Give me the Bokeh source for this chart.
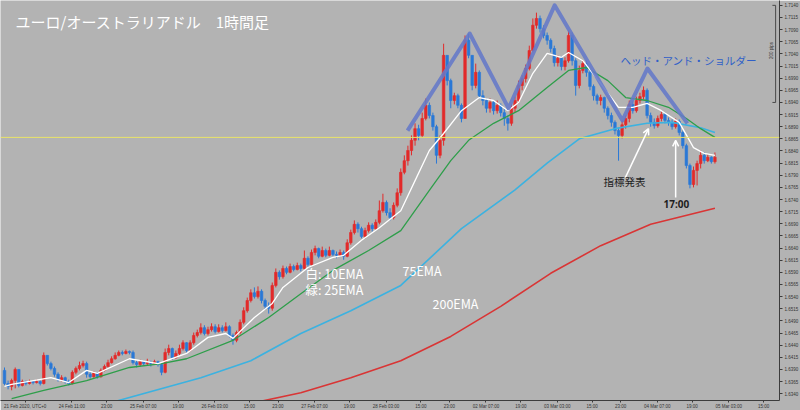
from bokeh.plotting import figure
from bokeh.models import Range1d, FixedTicker, Label, Arrow, OpenHead, Span, PrintfTickFormatter
from bokeh.embed import file_html
from bokeh.resources import INLINE

# ---------------- data (EUR/AUD, 1 hour) ----------------
first_open = 1.6388
close = [1.6361,1.6355,1.6367,1.6390,1.6357,1.6365,1.6361,1.6365,1.6363,1.6365,
         1.6361,1.6419,1.6402,1.6392,1.6380,1.6369,1.6373,1.6365,1.6361,1.6384,
         1.6392,1.6398,1.6402,1.6380,1.6375,1.6382,1.6375,1.6388,1.6396,1.6404,
         1.6412,1.6419,1.6425,1.6423,1.6427,1.6425,1.6404,1.6400,1.6406,1.6402,
         1.6404,1.6402,1.6406,1.6400,1.6384,1.6425,1.6433,1.6414,1.6423,1.6433,
         1.6445,1.6429,1.6445,1.6460,1.6466,1.6476,1.6464,1.6472,1.6478,1.6468,
         1.6476,1.6470,1.6478,1.6460,1.6450,1.6466,1.6487,1.6511,1.6532,1.6548,
         1.6540,1.6551,1.6532,1.6520,1.6516,1.6563,1.6590,1.6581,1.6598,1.6590,
         1.6602,1.6596,1.6604,1.6598,1.6619,1.6606,1.6631,1.6639,1.6623,1.6635,
         1.6625,1.6635,1.6627,1.6625,1.6631,1.6623,1.6651,1.6672,1.6689,1.6680,
         1.6664,1.6676,1.6687,1.6680,1.6693,1.6717,1.6734,1.6713,1.6703,1.6728,
         1.6754,1.6796,1.6820,1.6841,1.6862,1.6886,1.6872,1.6907,1.6934,1.6913,
         1.6890,1.6831,1.6862,1.7037,1.6985,1.6944,1.6954,1.6934,1.6907,1.7068,
         1.7037,1.6975,1.7002,1.6954,1.6944,1.6928,1.6940,1.6923,1.6934,1.6919,
         1.6907,1.6897,1.6928,1.6944,1.6975,1.6989,1.7010,1.7047,1.7099,1.7113,
         1.7092,1.7078,1.7068,1.7051,1.7022,1.7031,1.7014,1.7026,1.7078,1.7026,
         1.6975,1.7006,1.7020,1.7002,1.6973,1.6954,1.6944,1.6950,1.6928,1.6913,
         1.6899,1.6882,1.6872,1.6894,1.6907,1.6936,1.6923,1.6944,1.6952,1.6965,
         1.6913,1.6899,1.6892,1.6907,1.6915,1.6903,1.6899,1.6890,1.6901,1.6878,
         1.6851,1.6810,1.6771,1.6800,1.6814,1.6831,1.6820,1.6827,1.6818,1.6827]
high = [1.6394,1.6367,1.6371,1.6394,1.6384,1.6369,1.6367,1.6369,1.6367,1.6369,
        1.6367,1.6425,1.6417,1.6406,1.6396,1.6384,1.6378,1.6375,1.6369,1.6388,
        1.6396,1.6406,1.6408,1.6406,1.6384,1.6386,1.6384,1.6392,1.6400,1.6410,
        1.6417,1.6425,1.6429,1.6429,1.6431,1.6429,1.6429,1.6408,1.6410,1.6408,
        1.6412,1.6408,1.6410,1.6408,1.6404,1.6433,1.6441,1.6435,1.6429,1.6441,
        1.6450,1.6446,1.6450,1.6466,1.6472,1.6485,1.6481,1.6478,1.6485,1.6483,
        1.6483,1.6481,1.6487,1.6481,1.6464,1.6470,1.6493,1.6518,1.6538,1.6555,
        1.6559,1.6561,1.6555,1.6536,1.6528,1.6569,1.6598,1.6594,1.6604,1.6602,
        1.6608,1.6606,1.6610,1.6608,1.6635,1.6623,1.6637,1.6645,1.6641,1.6643,
        1.6639,1.6643,1.6637,1.6633,1.6637,1.6635,1.6658,1.6678,1.6697,1.6693,
        1.6684,1.6682,1.6693,1.6691,1.6699,1.6738,1.6752,1.6738,1.6722,1.6734,
        1.6763,1.6804,1.6831,1.6851,1.6872,1.6897,1.6894,1.6919,1.6948,1.6940,
        1.6919,1.6894,1.6872,1.7061,1.7031,1.6989,1.6960,1.6958,1.6938,1.7078,
        1.7082,1.7037,1.7020,1.7006,1.6965,1.6948,1.6948,1.6944,1.6944,1.6938,
        1.6928,1.6913,1.6936,1.6952,1.6985,1.6996,1.7018,1.7057,1.7113,1.7125,
        1.7119,1.7099,1.7084,1.7072,1.7057,1.7037,1.7035,1.7033,1.7088,1.7084,
        1.7031,1.7016,1.7026,1.7026,1.7006,1.6977,1.6958,1.6956,1.6952,1.6932,
        1.6919,1.6903,1.6888,1.6903,1.6913,1.6944,1.6942,1.6952,1.6960,1.6973,
        1.6969,1.6919,1.6907,1.6913,1.6921,1.6919,1.6909,1.6905,1.6907,1.6905,
        1.6882,1.6855,1.6814,1.6808,1.6820,1.6841,1.6837,1.6833,1.6829,1.6837]
low = [1.6357,1.6349,1.6347,1.6351,1.6353,1.6355,1.6357,1.6359,1.6359,1.6361,
       1.6357,1.6359,1.6398,1.6388,1.6375,1.6365,1.6365,1.6361,1.6357,1.6359,
       1.6380,1.6388,1.6394,1.6373,1.6371,1.6373,1.6371,1.6373,1.6386,1.6394,
       1.6402,1.6410,1.6417,1.6419,1.6421,1.6421,1.6400,1.6394,1.6396,1.6398,
       1.6398,1.6396,1.6400,1.6396,1.6378,1.6382,1.6419,1.6410,1.6412,1.6419,
       1.6429,1.6425,1.6427,1.6441,1.6456,1.6462,1.6460,1.6460,1.6468,1.6464,
       1.6466,1.6466,1.6468,1.6456,1.6441,1.6446,1.6462,1.6483,1.6507,1.6528,
       1.6536,1.6536,1.6526,1.6513,1.6505,1.6511,1.6559,1.6575,1.6577,1.6586,
       1.6588,1.6592,1.6594,1.6592,1.6596,1.6602,1.6604,1.6625,1.6619,1.6621,
       1.6621,1.6623,1.6623,1.6619,1.6623,1.6616,1.6621,1.6647,1.6668,1.6672,
       1.6660,1.6660,1.6672,1.6674,1.6678,1.6689,1.6713,1.6707,1.6697,1.6699,
       1.6724,1.6748,1.6792,1.6810,1.6831,1.6851,1.6862,1.6868,1.6903,1.6907,
       1.6882,1.6814,1.6825,1.6851,1.6975,1.6928,1.6936,1.6928,1.6899,1.6907,
       1.7031,1.6965,1.6969,1.6948,1.6934,1.6919,1.6919,1.6915,1.6917,1.6911,
       1.6892,1.6882,1.6892,1.6919,1.6938,1.6965,1.6981,1.7006,1.7043,1.7092,
       1.7084,1.7072,1.7059,1.7043,1.7014,1.7014,1.7006,1.7006,1.7022,1.7016,
       1.6954,1.6969,1.7000,1.6993,1.6965,1.6944,1.6936,1.6934,1.6919,1.6905,
       1.6890,1.6874,1.6820,1.6866,1.6886,1.6899,1.6917,1.6919,1.6938,1.6946,
       1.6907,1.6890,1.6886,1.6888,1.6901,1.6897,1.6892,1.6884,1.6886,1.6872,
       1.6845,1.6804,1.6763,1.6765,1.6769,1.6804,1.6814,1.6817,1.6814,1.6814]

# moving averages (bar index, price)
ema10_idx = [0,2,13,18,23,26,35,43,51,57,62,64,70,75,78,85,92,95,100,105,111,115,119,123,128,
             133,137,141,144,148,152,156,158,162,167,172,176,180,184,189,193,196,199]
ema10 = [1.6355,1.6359,1.6373,1.6363,1.6388,1.6382,1.6412,1.6402,1.6423,1.6456,1.6464,1.6454,
         1.6497,1.6526,1.6559,1.6600,1.6621,1.6625,1.6656,1.6682,1.6717,1.6779,1.6841,1.6876,
         1.6923,1.6950,1.6944,1.6923,1.6940,1.7000,1.7041,1.7033,1.7043,1.7026,1.6979,1.6930,
         1.6930,1.6938,1.6923,1.6899,1.6847,1.6835,1.6831]
ema25_idx = [2,11,23,35,44,51,64,74,83,92,102,111,119,125,130,137,144,152,158,163,169,174,180,
             186,191,195,199]
ema25 = [1.6330,1.6347,1.6367,1.6394,1.6402,1.6412,1.6450,1.6497,1.6546,1.6594,1.6635,1.6676,
         1.6759,1.6820,1.6862,1.6897,1.6923,1.6971,1.7006,1.7012,1.6985,1.6950,1.6944,1.6930,
         1.6907,1.6886,1.6868]
ema75_idx = [30,55,69,83,97,111,128,143,152,161,171,180,187,195,199]
ema75 = [1.6322,1.6373,1.6408,1.6464,1.6511,1.6563,1.6680,1.6760,1.6815,1.6865,1.6886,1.6897,
         1.6899,1.6888,1.6878]
ema200_idx = [69,83,97,111,125,139,153,167,181,199]
ema200 = [1.6320,1.6342,1.6373,1.6408,1.6458,1.6520,1.6588,1.6645,1.6689,1.6722]

# head-and-shoulders guide line
hs_idx = [112.9,130.3,141.2,154.1,173.1,180.1,191.3]
hs_price = [1.6882,1.7082,1.6928,1.7140,1.6903,1.7010,1.6897]

level_price = 1.6868          # yellow horizontal line

ytick_vals = [1.7140,1.7115,1.7090,1.7065,1.7040,1.7015,1.6990,1.6965,1.6940,1.6915,1.6890,
              1.6865,1.6840,1.6815,1.6790,1.6765,1.6740,1.6715,1.6690,1.6665,1.6640,1.6615,
              1.6590,1.6565,1.6540,1.6515,1.6490,1.6465,1.6440,1.6415,1.6390,1.6365,1.6340]
xtick_idx = [0,15,27,35,47,55,67,75,83,95,103,115,123,131,143,151,163,171,179,191,199,211]
xtick_labels = ["21 Feb 2020, UTC+0","24 Feb 11:00","23:00","25 Feb 07:00","19:00","26 Feb 03:00",
                "15:00","23:00","27 Feb 07:00","19:00","28 Feb 03:00","15:00","23:00",
                "02 Mar 07:00","19:00","03 Mar 03:00","15:00","23:00","04 Mar 07:00","19:00",
                "05 Mar 03:00","15:00"]

# ---------------- layout constants ----------------
BG = "#b3b3b3"
RED = "#e22a2a"
BLUE = "#2a78d6"
FW, FH = 779, 400
PX_PER_BAR = 3.57
X0_PX = 4
P_TOP = 1.7150
P_PER_PX = 0.000206
AX_FONT = "4.5px"
CHAR_PX = 2.3

n = len(close)
idx = list(range(n))
opn = [first_open] + close[:-1]
col = [RED if c >= o else BLUE for o, c in zip(opn, close)]
top = [max(o, c) for o, c in zip(opn, close)]
bot = [min(o, c) for o, c in zip(opn, close)]
hi = [max(h, t) for h, t in zip(high, top)]
lo = [min(l, b) for l, b in zip(low, bot)]

p = figure(frame_width=FW, frame_height=FH,
           x_range=Range1d(-X0_PX / PX_PER_BAR, (FW - X0_PX) / PX_PER_BAR),
           y_range=Range1d(P_TOP - FH * P_PER_PX, P_TOP),
           output_backend="svg", toolbar_location=None, y_axis_location="right",
           min_border_left=0, min_border_top=0, min_border_right=21, min_border_bottom=10,
           background_fill_color=BG, border_fill_color=BG, outline_line_color=None)
p.grid.visible = False

# axes
for ax in (p.xaxis[0], p.yaxis[0]):
    ax.axis_line_color = "#3c3c3c"
    ax.major_tick_line_color = "#3c3c3c"
    ax.minor_tick_line_color = None
    ax.major_tick_in = 0
    ax.major_label_text_font = "Liberation Sans"
    ax.major_label_text_font_size = AX_FONT
    ax.major_label_text_color = "#333333"
p.yaxis.ticker = FixedTicker(ticks=ytick_vals)
p.yaxis.formatter = PrintfTickFormatter(format="%.4f")
p.yaxis.major_tick_out = 3
p.yaxis.major_label_standoff = 2

shifted = [i + len(s) * CHAR_PX / 2 / PX_PER_BAR for i, s in zip(xtick_idx, xtick_labels)]
p.xaxis.ticker = FixedTicker(ticks=shifted)
p.xaxis.major_label_overrides = {t: s for t, s in zip(shifted, xtick_labels)}
p.xaxis.major_tick_out = 2
p.xaxis.major_label_standoff = 1

# yellow level line
p.add_layout(Span(location=level_price, dimension="width", line_color="#e9e468", line_width=1))

# candles
p.segment(x0=idx, y0=lo, x1=idx, y1=hi, line_color=col, line_width=1)
p.vbar(x=idx, width=0.72, top=top, bottom=bot, fill_color=col, line_color=col, line_width=0.6)

# moving averages
p.line(ema200_idx, ema200, line_color="#d93535", line_width=1.6)
p.line(ema75_idx, ema75, line_color="#3cb2e0", line_width=1.6)
p.line(ema25_idx, ema25, line_color="#2e9e4a", line_width=1.3)
p.line(ema10_idx, ema10, line_color="#ffffff", line_width=1.3)

# H&S guide
p.line(hs_idx, hs_price, line_color="#6479c8", line_width=4, line_alpha=0.88, line_join="round")

# 200 pips bracket
p.segment(x0=[216.0, 215.1, 215.1], y0=[1.7140, 1.7140, 1.6940],
          x1=[216.0, 216.0, 216.0], y1=[1.6940, 1.7140, 1.6940], line_color="#4a4a4a", line_width=1)

# arrows
for xs, ys, xe, ye in [(173.9, 1.6785, 180.4, 1.6886), (188.0, 1.6744, 188.0, 1.6862)]:
    p.add_layout(Arrow(end=OpenHead(size=6, line_color="white", line_width=1.5),
                       x_start=xs, y_start=ys, x_end=xe, y_end=ye,
                       line_color="white", line_width=1.5))

JP = "Noto Sans CJK JP"

def lab(x, py, text, size, color, bold=False, font=JP, **kw):
    p.add_layout(Label(x=x, y=FH - py, x_units="screen", y_units="screen", text=text,
                       text_font=font, text_font_size=size, text_color=color,
                       text_font_style="bold" if bold else "normal",
                       text_baseline="middle", **kw))

lab(15, 21, "ユーロ/オーストラリアドル　1時間足", "15px", "white")
lab(305, 273, "白: 10EMA", "12.5px", "white")
lab(305, 289, "緑: 25EMA", "12.5px", "white")
lab(402, 270, "75EMA", "12.5px", "white")
lab(432, 303, "200EMA", "12.5px", "white")
lab(620, 60, "ヘッド・アンド・ショルダー", "10.5px", "#2f5fc8")
lab(603, 181, "指標発表", "10.5px", "#1e1e1e")
lab(663, 203, "17:00", "10px", "#1e1e1e", bold=True, font="Noto Sans")
lab(771, 50, "200 pips", AX_FONT, "#333333", font="Liberation Sans", angle=90,
    angle_units="deg", text_align="center")

open("out.html", "w").write(file_html(p, INLINE))
